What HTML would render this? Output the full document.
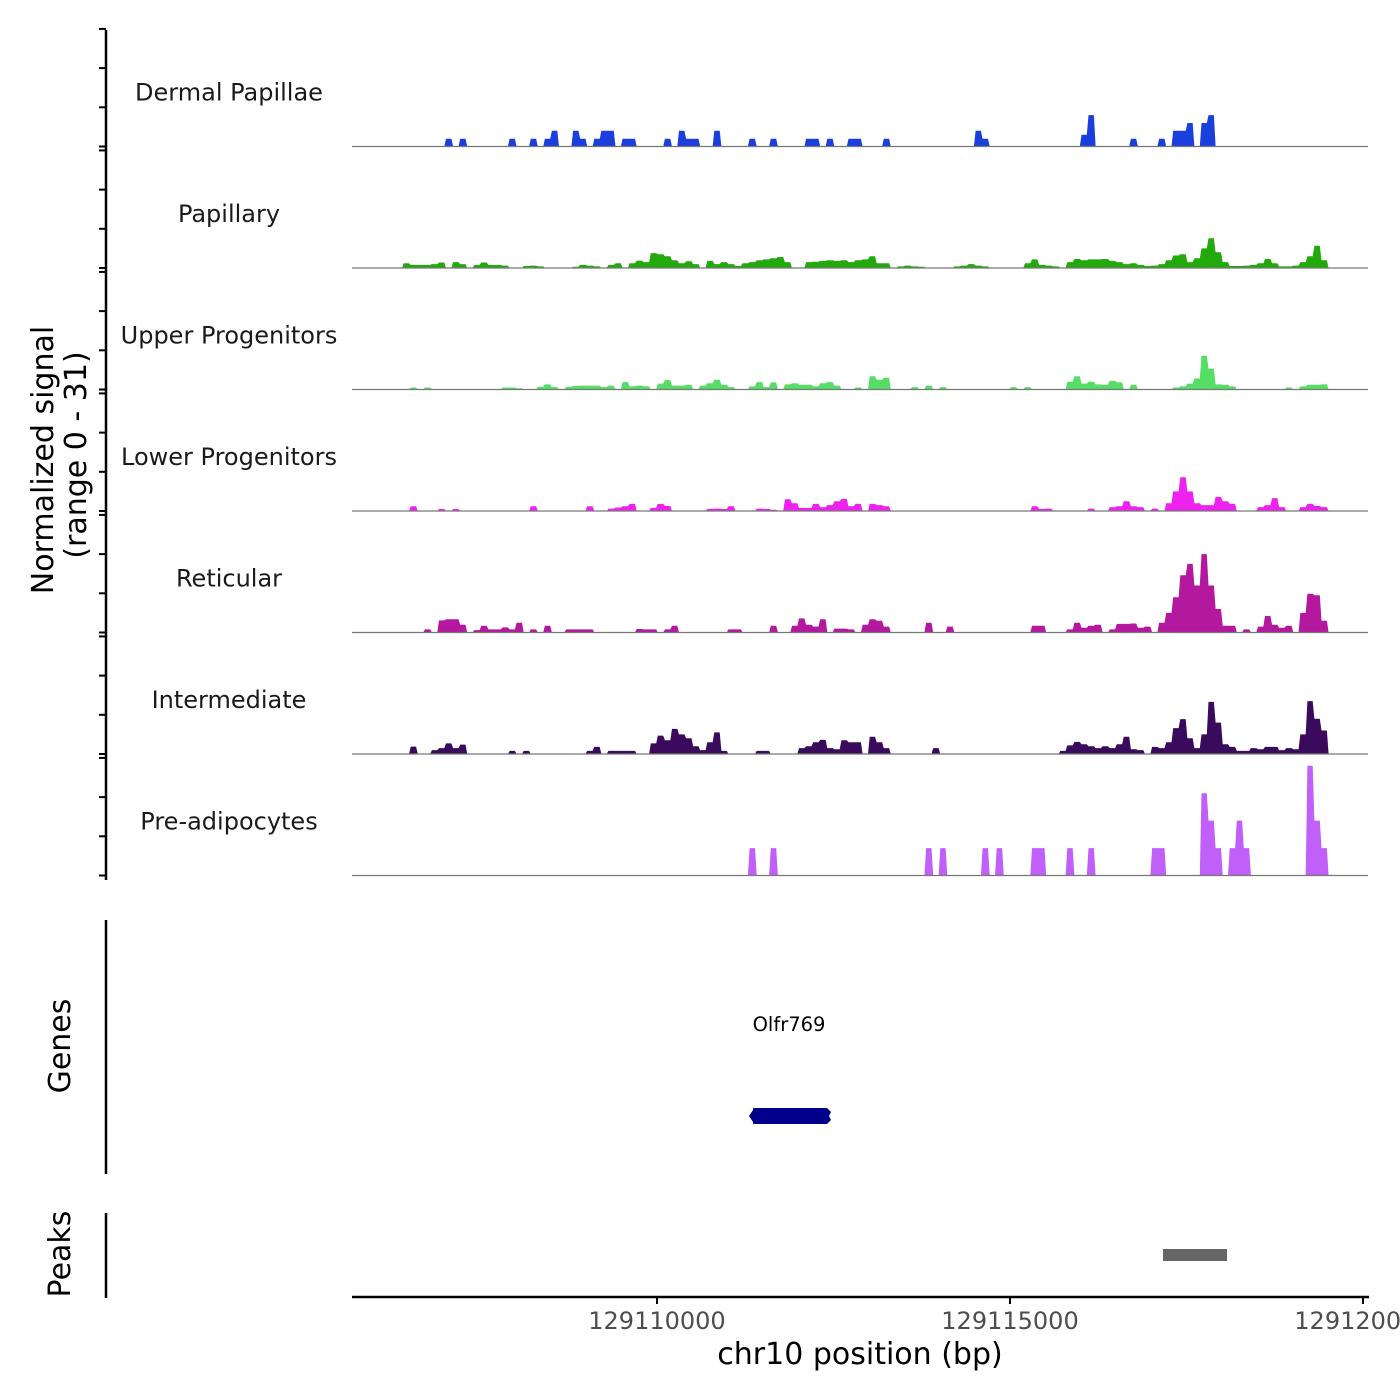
<!DOCTYPE html>
<html><head><meta charset="utf-8"><style>
html,body{margin:0;padding:0;background:#fff;}
svg{display:block;font-family:"DejaVu Sans","Liberation Sans",sans-serif;}
</style></head><body>
<svg id="chart" width="1400" height="1400" viewBox="0 0 1400 1400" xmlns="http://www.w3.org/2000/svg">
<g id="tracks"></g>
<g id="leftaxis"></g>
<text transform="translate(53,460) rotate(-90)" text-anchor="middle" font-size="30" fill="#000">Normalized signal</text>
<text transform="translate(86,455) rotate(-90)" text-anchor="middle" font-size="30" fill="#000">(range 0 - 31)</text>
<line x1="106" y1="920" x2="106" y2="1174" stroke="#000" stroke-width="2.5"/>
<text transform="translate(70,1046) rotate(-90)" text-anchor="middle" font-size="30" fill="#000">Genes</text>
<text x="789" y="1031" text-anchor="middle" font-size="19.5" fill="#000">Olfr769</text>
<g>
<rect x="753" y="1108" width="74" height="16" fill="#00008b"/>
<path d="M753,1110 L749,1116 L753,1122 Z M827,1108 L831,1112 L829,1116 L831,1120 L827,1124 Z" fill="#00008b"/>
</g>
<line x1="106" y1="1213" x2="106" y2="1298" stroke="#000" stroke-width="2.5"/>
<text transform="translate(70,1254) rotate(-90)" text-anchor="middle" font-size="30" fill="#000">Peaks</text>
<rect x="1163" y="1249" width="64" height="12" fill="#666"/>
<line x1="352" y1="1297" x2="1369" y2="1297" stroke="#000" stroke-width="2.5"/>
<g id="xaxis"></g>
<text x="860" y="1364" text-anchor="middle" font-size="30" fill="#000">chr10 position (bp)</text>
</svg>
<script>
const trackNames = ["Dermal Papillae","Papillary","Upper Progenitors","Lower Progenitors","Reticular","Intermediate","Pre-adipocytes"];
const trackColors = ["#1a3fdc","#22aa0c","#55dd66","#ee22ee","#b4189e","#3a0a5c","#c060f8"];
const binStart = 129105700;
const binSize = 100;
const xTicks = [129110000,129115000,129120000];
const dermalPapillae = [
0,0,0,0,0,0,0,0,0,0, 0,0,0,2,0,2,0,0,0,0, 0,0,2,0,0,2,0,2,4,0, 0,4,2,0,2,4,4,0,2,2,
0,0,0,0,2,0,4,2,2,0, 0,4,0,0,0,0,2,0,0,2, 0,0,0,0,2,2,0,2,0,0, 2,2,0,0,0,2,0,0,0,0,
0,0,0,0,0,0,0,0,4,2, 0,0,0,0,0,0,0,0,0,0, 0,0,0,3,8,0,0,0,0,0, 2,0,0,0,2,0,4,4,6,0,
6,8,0,0,0,0,0,0,0,0, 0,0,0,0,0,0,0,0,0,0, 0,0,0,0,0];
const papillary = [
0,0,0,0,0,0,0,1.2,0.8,0.8, 0.8,1,1.4,0,1.5,1,0,0.8,1.4,0.8, 0.8,0.6,0,0,0.5,0.6,0.4,0,0,0, 0,0.3,0.8,0.6,0.4,0,0.8,1.2,0,1.2,
1.9,1.5,3.8,3.5,3,2,1.2,1.7,1,0, 1.8,1,1.5,1,0.5,1.2,1.5,2,2.2,2.5, 2.8,1.5,0,0,1.5,1.6,1.8,2,1.8,2, 1.5,2,2.2,3,1.2,1.2,0,0.4,0.6,0.4,
0.3,0,0,0,0,0.4,0.6,1,0.6,0.4, 0,0,0,0,0,1.2,2.2,0.8,0.6,0.4, 0,1.5,2.3,2,2.2,2.2,2.3,1.8,1.5,1, 1.2,0.8,0.5,0.6,1,2,3.2,3.5,1.5,2.5,
5,7.6,4,1.5,0.5,0.5,0.6,0.8,1.2,2.3, 1.2,0.4,0.4,0.6,1.5,3,5.7,2,0,0, 0,0,0,0,0];
const upperProgenitors = [
0,0,0,0,0,0,0,0,0.5,0, 0.5,0,0,0,0,0,0,0,0,0, 0,0.5,0.5,0.3,0,0,0.7,1.3,0.6,0, 0.7,0.9,1,1,1,0.6,1,0,1.9,0.8,
1,0.8,0,1.5,2.4,1,1,1.2,0,1, 1.6,2.5,1.2,0.6,0,0,0.8,1.9,0.6,1.8, 0,1.3,1.6,1.2,1.2,0.8,1.6,1.9,1,0, 0,0.5,0,3.4,2.5,3,0,0,0,0.6,
0,1,0,0.6,0,0,0,0,0,0, 0,0,0,0.6,0,0.6,0,0,0,0, 0,2,3.4,1.5,2,1.3,1.2,2.2,1.8,0, 1.2,0,0,0,0,0,0.5,0.8,1.5,2.8,
8.6,5.3,1.3,1.2,0.8,0,0,0,0,0, 0,0,0.5,0,0.8,1.2,1.2,1.3,0,0, 0,0,0,0,0];
const lowerProgenitors = [
0,0,0,0,0,0,0,0,1.2,0, 0,0,0.5,0,0.5,0,0,0,0,0, 0,0,0,0,0,1.2,0,0,0,0, 0,0,0,1.2,0,0,0.6,0.9,1.2,1.8,
0,0,0.8,1.8,1.3,0,0,0,0,0, 0.5,0.6,0.5,1.2,0,0,0,0.6,0.5,0.3, 0,3,2,0.8,0.8,1.8,1,1.5,2.5,3.1, 1.2,1.8,0,1.8,1.5,1.2,0,0,0,0,
0,0,0,0,0,0,0,0,0,0, 0,0,0,0,0,0,1.2,0.5,0.6,0, 0,0,0,0,0.6,0,0,1,1.2,2.5, 1.2,1,0,0.6,0,2,5,8.6,5,2,
1.5,1.5,3.6,2.5,1.8,0,0,0,1,1.5, 3.3,1,0,0,1,1.8,1.3,1,0,0, 0,0,0,0,0];
const reticular = [
0,0,0,0,0,0,0,0,0,0, 0.8,0,3.1,3.4,3.4,2,0,0.6,1.7,0.8, 0.8,1.3,0.8,2.5,0,0.8,0,1.7,0,0, 0.8,0.8,0.8,0.8,0,0,0,0,0,0,
0.9,0.8,0.8,0,0.8,1.7,0,0,0,0, 0,0,0,0.8,0.8,0,0,0,0,1.7, 0,0,1.7,3.6,2,1.5,3.4,0,1,1, 0.8,0,2,3.4,3,1.5,0,0,0,0,
0,2.5,0,0,1.5,0,0,0,0,0, 0,0,0,0,0,0,1.7,1.7,0,0, 0,0.8,2.5,1.2,1.7,2,0,0.8,2.2,2.2, 2.3,1.2,1.5,0,2.5,5,9,14.6,17.5,12,
20,12,6,1.7,1.7,0,0.8,0,1.5,4.2, 2,1.2,1.7,0,5,9.9,9.5,3,0,0, 0,0,0,0,0];
const intermediate = [
0,0,0,0,0,0,0,0,1.9,0, 0,1,1.5,2.7,1.5,2.4,0,0,0,0, 0,0,0.8,0,0.8,0,0,0,0,0, 0,0,0,0.8,1.8,0,0.8,0.8,0.8,0.8,
0,0,2.7,4.7,3.5,6.4,5,4,2,1, 3,5.5,0.8,0,0,0,0,0.8,0.8,0, 0,0,0,1.5,2,3,3.6,1.5,1.2,3.5, 3,3,0,4.4,3,1.5,0,0,0,0,
0,0,1.5,0,0,0,0,0,0,0, 0,0,0,0,0,0,0,0,0,0, 0.8,2.2,3.1,2.5,2,1.5,2,1.5,2.5,4.4, 1.2,1,0,1.8,1.5,3,6.6,8.9,4,1.5,
5,13.3,8,2.5,1.8,0.8,0.8,1.5,1.2,1.8, 1.8,1,1.5,1.2,5,13.5,9,6,0,0, 0,0,0,0,0];
const preAdipocytes = [
0,0,0,0,0,0,0,0,0,0, 0,0,0,0,0,0,0,0,0,0, 0,0,0,0,0,0,0,0,0,0, 0,0,0,0,0,0,0,0,0,0,
0,0,0,0,0,0,0,0,0,0, 0,0,0,0,0,0,7,0,0,7, 0,0,0,0,0,0,0,0,0,0, 0,0,0,0,0,0,0,0,0,0,
0,7,0,7,0,0,0,0,0,7, 0,7,0,0,0,0,7,7,0,0, 0,7,0,0,7,0,0,0,0,0, 0,0,0,7,7,0,0,0,0,0,
21,14,7,0,7,14,7,0,0,0, 0,0,0,0,0,28,14,7,0,0, 0,0,0,0,0];
const trackValues = [dermalPapillae,papillary,upperProgenitors,lowerProgenitors,reticular,intermediate,preAdipocytes];
const yMax = 31;

const NS = "http://www.w3.org/2000/svg";
const plotL = 352, plotR = 1368, bpL = 129105680, bpPerPx = 14.164;
const trackTop = 25, trackH = 121.5;
function xScale(bp){ return plotL + (bp - bpL) / bpPerPx; }
function binX(k){ return xScale(binStart + k * binSize); }
function baseY(i){ return trackTop + (i + 1) * trackH; }
function yScale(i, v){ return baseY(i) - v / yMax * trackH; }
function mk(tag, attrs){ const e = document.createElementNS(NS, tag); for (const k in attrs) e.setAttribute(k, attrs[k]); return e; }

const tracksG = document.getElementById('tracks');
const axisG = document.getElementById('leftaxis');
trackNames.forEach((name, i) => {
  const vals = trackValues[i];
  const b = baseY(i);
  let pts = [[binX(0), b]];
  vals.forEach((v, k) => {
    pts.push([binX(k + 0.12), yScale(i, v)]);
    pts.push([binX(k + 0.88), yScale(i, v)]);
  });
  pts.push([binX(vals.length), b]);
  const poly = mk('polygon', {points: pts.map(p => p[0].toFixed(1) + ',' + p[1].toFixed(1)).join(' '), fill: trackColors[i]});
  
  
  tracksG.appendChild(poly);
  const base = mk('line', {x1: plotL, x2: plotR, y1: b, y2: b, stroke: '#777', 'stroke-width': 1.2});
  
  
  tracksG.appendChild(base);
  const lbl = mk('text', {x: 229, y: b - 46, 'text-anchor': 'middle', 'font-size': 24, fill: '#1a1a1a'});
  lbl.textContent = name;
  
  
  tracksG.appendChild(lbl);
  [0, 10, 20, 30].forEach(t => {
    const y = yScale(i, t);
    const tk = mk('line', {x1: 99, x2: 106, y1: y, y2: y, stroke: '#000', 'stroke-width': 2});
    
    
    axisG.appendChild(tk);
  });
});
const yl = mk('line', {x1: 106, x2: 106, y1: 30, y2: 880, stroke: '#000', 'stroke-width': 2.5});


axisG.appendChild(yl);

const xg = document.getElementById('xaxis');
xTicks.forEach(t => {
  const x = xScale(t);
  const tk = mk('line', {x1: x, x2: x, y1: 1297, y2: 1304, stroke: '#000', 'stroke-width': 2});
  
  
  xg.appendChild(tk);
  const tl = mk('text', {x: x, y: 1329, 'text-anchor': 'middle', 'font-size': 24, fill: '#4d4d4d'});
  tl.textContent = String(t);
  
  
  xg.appendChild(tl);
});
</script>
</body></html>
